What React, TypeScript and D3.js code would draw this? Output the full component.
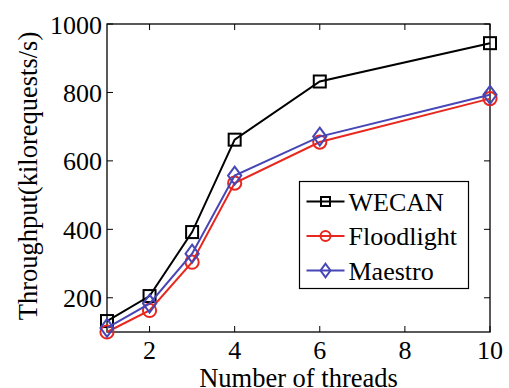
import React, { useEffect, useRef } from "react";
import * as d3 from "d3";

const threads = [1, 2, 3, 4, 6, 10];
const wecan = [132, 205, 392, 662, 832, 944];
const floodlight = [100, 163, 304, 535, 655, 782];
const maestro = [112, 183, 329, 557, 671, 793];
const xTicks = [2, 4, 6, 8, 10];
const yTicks = [200, 400, 600, 800, 1000];

const series = [
  { name: "WECAN", values: wecan, color: "#000000", marker: "square" },
  { name: "Floodlight", values: floodlight, color: "#e8281e", marker: "circle" },
  { name: "Maestro", values: maestro, color: "#4646b6", marker: "diamond" },
];

function drawMarker(g: any, kind: string, cx: number, cy: number, s: number, color: string) {
  if (kind === "square") {
    g.append("rect")
      .attr("x", cx - s).attr("y", cy - s)
      .attr("width", 2 * s).attr("height", 2 * s)
      .attr("fill", "none").attr("stroke", color).attr("stroke-width", 2);
  } else if (kind === "circle") {
    g.append("circle")
      .attr("cx", cx).attr("cy", cy).attr("r", s * 1.1)
      .attr("fill", "none").attr("stroke", color).attr("stroke-width", 2);
  } else {
    const w = s * 1.1, h = s * 1.5;
    g.append("path")
      .attr("d", `M${cx},${cy - h}L${cx + w},${cy}L${cx},${cy + h}L${cx - w},${cy}Z`)
      .attr("fill", "none").attr("stroke", color).attr("stroke-width", 2);
  }
}

export default function App() {
  const ref = useRef<SVGSVGElement>(null);

  useEffect(() => {
    const width = 509;
    const height = 388;
    const margin = { top: 24, right: 19, bottom: 56, left: 107 };
    const innerWidth = width - margin.left - margin.right;
    const innerHeight = height - margin.top - margin.bottom;

    const svg = d3.select(ref.current);
    svg.selectAll("*").remove();
    const font = "Liberation Serif, Times, DejaVu Serif, serif";

    const chart = svg.append("g").attr("transform", `translate(${margin.left}, ${margin.top})`);

    const x = d3.scaleLinear().domain([1, 10]).range([0, innerWidth]);
    const y = d3.scaleLinear().domain([100, 1000]).range([innerHeight, 0]);

    // ticks, inward on all four sides
    const tickLen = 6;
    xTicks.forEach(t => {
      chart.append("line").attr("x1", x(t)).attr("x2", x(t))
        .attr("y1", innerHeight).attr("y2", innerHeight - tickLen).attr("stroke", "black");
      chart.append("line").attr("x1", x(t)).attr("x2", x(t))
        .attr("y1", 0).attr("y2", tickLen).attr("stroke", "black");
      chart.append("text")
        .attr("x", x(t)).attr("y", innerHeight + 27)
        .attr("text-anchor", "middle")
        .attr("font-family", font).attr("font-size", 26)
        .text(t);
    });
    yTicks.forEach(t => {
      chart.append("line").attr("x1", 0).attr("x2", tickLen)
        .attr("y1", y(t)).attr("y2", y(t)).attr("stroke", "black");
      chart.append("line").attr("x1", innerWidth).attr("x2", innerWidth - tickLen)
        .attr("y1", y(t)).attr("y2", y(t)).attr("stroke", "black");
      chart.append("text")
        .attr("x", -5).attr("y", y(t) + 9.5)
        .attr("text-anchor", "end")
        .attr("font-family", font).attr("font-size", 26)
        .text(t);
    });

    // box
    chart.append("rect")
      .attr("x", 0).attr("y", 0)
      .attr("width", innerWidth).attr("height", innerHeight)
      .attr("fill", "none").attr("stroke", "black").attr("stroke-width", 1.3);

    // lines + markers
    const line = d3.line<number>()
      .x((d, i) => x(threads[i]))
      .y(d => y(d));

    series.forEach(s => {
      chart.append("path")
        .datum(s.values)
        .attr("d", line)
        .attr("fill", "none")
        .attr("stroke", s.color)
        .attr("stroke-width", 2);
      s.values.forEach((v, i) => {
        drawMarker(chart, s.marker, x(threads[i]), y(v), 6, s.color);
      });
    });

    // axis labels
    chart.append("text")
      .attr("x", innerWidth / 2).attr("y", innerHeight + 55)
      .attr("text-anchor", "middle")
      .attr("font-family", font).attr("font-size", 26.5)
      .text("Number of threads");

    svg.append("text")
      .attr("transform", `translate(37, 176) rotate(-90)`)
      .attr("text-anchor", "middle")
      .attr("font-family", font).attr("font-size", 26.5)
      .text("Throughput(kilorequests/s)");

    // legend
    const legend = svg.append("g").attr("transform", "translate(299.5, 181.5)");
    legend.append("rect")
      .attr("width", 169).attr("height", 107)
      .attr("fill", "white").attr("stroke", "black").attr("stroke-width", 1.2);
    series.forEach((s, i) => {
      const ly = 20 + i * 34.5;
      legend.append("line")
        .attr("x1", 7).attr("x2", 45).attr("y1", ly).attr("y2", ly)
        .attr("stroke", s.color).attr("stroke-width", 2);
      drawMarker(legend, s.marker, 26, ly, 4.5, s.color);
      legend.append("text")
        .attr("x", 49).attr("y", ly + 9)
        .attr("font-family", font).attr("font-size", 26)
        .text(s.name);
    });
  }, []);

  return (
    <svg ref={ref} width={509} height={388}
      style={{ position: "absolute", left: 0, top: 0, background: "white" }} />
  );
}
